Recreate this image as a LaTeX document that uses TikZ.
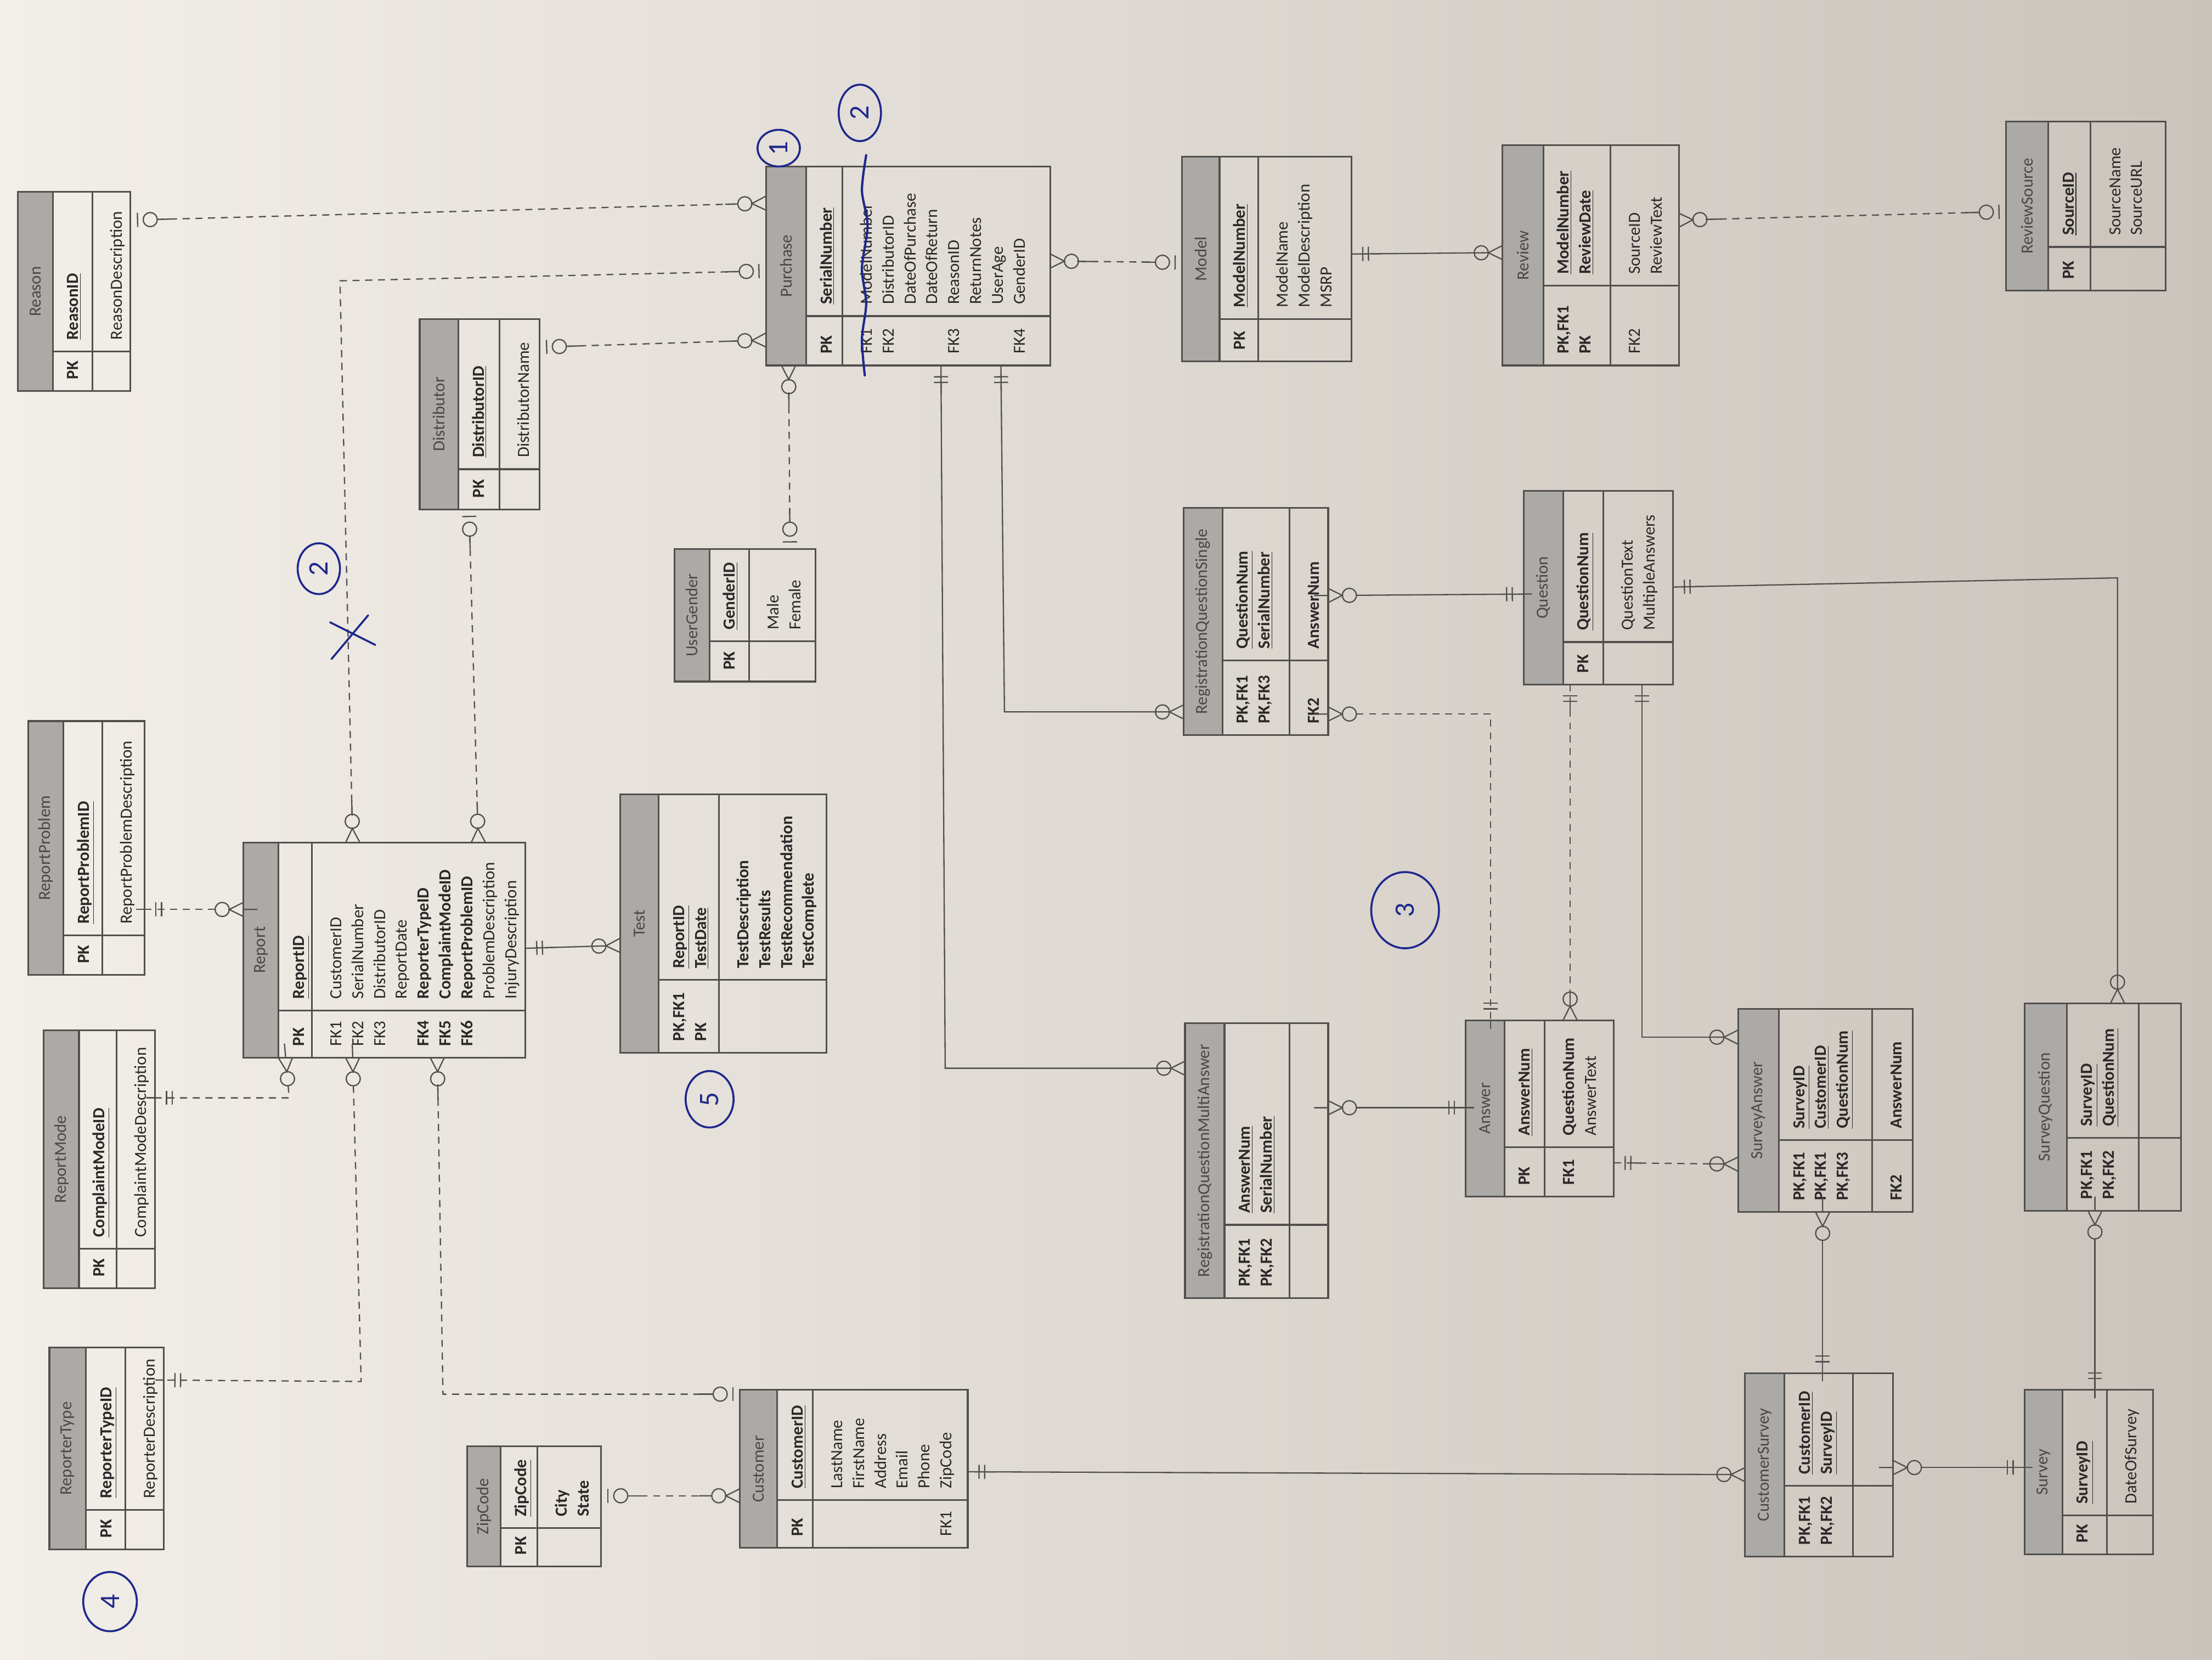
\documentclass[tikz,border=0pt]{standalone}
\usepackage{fontspec}
\setmainfont{Carlito}
\usepackage{tikz}
\usetikzlibrary{fit,decorations.markings}

\definecolor{paperL}{RGB}{242,238,232}
\definecolor{paperR}{RGB}{203,196,189}
\definecolor{headgray}{RGB}{172,170,166}
\definecolor{framegray}{RGB}{82,80,78}
\definecolor{txtgray}{RGB}{42,40,40}
\definecolor{pen}{RGB}{30,40,140}

\newcommand{\erfont}{\fontsize{12}{15.5}\selectfont}
\newcommand{\pk}[1]{\textbf{\underline{#1}}}

% crow's foot ends, drawn with the table edge at the origin
\newcommand{\crowmany}{\draw[mk] (-15,0) circle[radius=5]; \draw[mk] (0,5) -- (-10,0) -- (0,-5) (-10,0) -- (0,0);}
\newcommand{\zeroone}{\draw[mk] (-14,0) circle[radius=5]; \draw[mk] (-5,5) -- (-5,-5) (-9,0) -- (0,0);}
\newcommand{\onlyone}{\draw[mk] (-8,5) -- (-8,-5) (-12,5) -- (-12,-5) (-14,0) -- (0,0);}

\tikzset{
	tabframe/.style={
		% The shape:
		rectangle,inner sep=0pt,outer sep=0pt,
		% The border:
		draw=framegray,line width=1.2pt,
	}}
\tikzset{
	headfill/.style={fill=headgray},
	tabline/.style={draw=framegray,line width=1.2pt},
	ttl/.style={rotate=90,font=\erfont,text=txtgray!85,inner sep=0pt},
	fld/.style={rotate=90,anchor=north west,align=left,font=\erfont,text=txtgray,inner sep=0pt},
	mk/.style={solid,draw=framegray,line width=0.9pt},
	rel/.style={draw=framegray,line width=0.9pt},
	dashrel/.style={rel,dash pattern=on 5pt off 4pt},
	tipB/.style={postaction={decorate,decoration={markings,mark=at position 1 with {#1}}}},
	tipA/.style={postaction={decorate,decoration={markings,mark=at position 0 with {\begin{scope}[xscale=-1]#1\end{scope}}}}},
	manyA/.style={tipA=\crowmany,shorten <=20pt},manyB/.style={tipB=\crowmany,shorten >=20pt},
	optA/.style={tipA=\zeroone,shorten <=19pt},optB/.style={tipB=\zeroone,shorten >=19pt},
	oneA/.style={tipA=\onlyone},oneB/.style={tipB=\onlyone},
	ink/.style={draw=pen,line width=1.4pt,line cap=round},
	inknum/.style={rotate=90,text=pen,font=\fontsize{20}{20}\selectfont,inner sep=0pt},
}

% #1 name, #2 title, #3-#6 x of left / header / key column / right, #7-#9 y of top / divider / bottom
\newcommand{\ertable}[9]{%
	\fill[headfill] (#3,#7) rectangle (#4,#9);
	\node[tabframe,fit={(#3,#7) (#6,#9)}] (#1) {};
	\draw[tabline] (#4,#7) -- (#4,#9) (#5,#7) -- (#5,#9) (#4,#8) -- (#6,#8);
	\node[ttl] (#1-title) at ({(#3+#4)/2},{(#7+#9)/2}) {#2};
	\coordinate (#1-k) at (#4,#8);
	\coordinate (#1-a) at (#5,#8);
	\coordinate (#1-kb) at (#4,#9);
	\coordinate (#1-ab) at (#5,#9);
}
% #1 table, #2 key labels, #3 key names, #4 fk labels, #5 attributes
\newcommand{\erfields}[5]{%
	\node[fld,font=\erfont\bfseries] (#1-pk) at ([shift={(7,-8)}]#1-kb) {\strut#2};
	\node[fld] (#1-keys) at ([shift={(7,-8)}]#1-k) {\strut#3};
	\node[fld] (#1-fk) at ([shift={(10,-8)}]#1-ab) {\strut#4};
	\node[fld] (#1-attr) at ([shift={(10,-8)}]#1-a) {\strut#5};
}

\begin{document}
\begin{tikzpicture}[x=1pt,y=-1pt]
\useasboundingbox (0,0) rectangle (1568,1176);
\shade[left color=paperL,right color=paperR] (0,0) rectangle (1568,1176);

% tables
\ertable{reason}{Reason}{12.5}{37.5}{65.5}{92.5}{136}{249}{277}
\erfields{reason}{PK}{\pk{ReasonID}}{}{ReasonDescription}
\ertable{reportproblem}{ReportProblem}{20}{45}{72.5}{102.5}{511}{663}{691}
\erfields{reportproblem}{PK}{\pk{ReportProblemID}}{}{ReportProblemDescription}
\ertable{reportmode}{ReportMode}{31}{56}{82.5}{110}{730}{885}{913}
\erfields{reportmode}{PK}{\pk{ComplaintModeID}}{}{ComplaintModeDescription}
\ertable{reportertype}{ReporterType}{35}{61}{89}{116}{955}{1070}{1098}
\erfields{reportertype}{PK}{\pk{ReporterTypeID}}{}{ReporterDescription}
\ertable{zipcode}{ZipCode}{331}{355}{381}{426}{1025}{1083}{1110}
\erfields{zipcode}{PK}{\pk{ZipCode}}{}{\textbf{City}\\\textbf{State}}
\ertable{report}{Report}{172.5}{197.5}{221}{372.5}{597}{716}{749.5}
\erfields{report}{PK}{\pk{ReportID}}{FK1\\FK2\\FK3\\\strut\\\textbf{FK4}\\\textbf{FK5}\\\textbf{FK6}}{CustomerID\\SerialNumber\\DistributorID\\ReportDate\\\textbf{ReporterTypeID}\\\textbf{ComplaintModeID}\\\textbf{ReportProblemID}\\ProblemDescription\\InjuryDescription}
\ertable{distributor}{Distributor}{297.5}{325}{354}{382.5}{226}{332.5}{361}
\erfields{distributor}{PK}{\pk{DistributorID}}{}{DistributorName}
\ertable{test}{Test}{439.5}{467}{509.5}{586}{563}{694.5}{746}
\erfields{test}{PK,FK1\\PK}{\pk{ReportID}\\\pk{TestDate}}{}{\textbf{TestDescription}\\\textbf{TestResults}\\\textbf{TestRecommendation}\\\textbf{TestComplete}}
\ertable{usergender}{UserGender}{478}{503}{531}{578}{389}{454.5}{483}
\erfields{usergender}{PK}{\pk{GenderID}}{}{Male\\Female}
\ertable{customer}{Customer}{524.5}{551}{576}{686}{985}{1063}{1097}
\erfields{customer}{PK}{\pk{CustomerID}}{\strut\\\strut\\\strut\\\strut\\\strut\\FK1}{LastName\\FirstName\\Address\\Email\\Phone\\ZipCode}
\ertable{purchase}{Purchase}{543}{571.5}{597}{744.5}{118}{224}{259}
\erfields{purchase}{PK}{\pk{SerialNumber}}{FK1\\FK2\\\strut\\\strut\\FK3\\\strut\\\strut\\FK4}{ModelNumber\\DistributorID\\DateOfPurchase\\DateOfReturn\\ReasonID\\ReturnNotes\\UserAge\\GenderID}
\ertable{model}{Model}{838}{864.5}{892}{958}{111}{226}{256}
\erfields{model}{PK}{\pk{ModelNumber}}{}{ModelName\\ModelDescription\\MSRP}
\ertable{review}{Review}{1065}{1094}{1141.5}{1190}{103}{202.5}{259}
\erfields{review}{PK,FK1\\PK}{\pk{ModelNumber}\\\pk{ReviewDate}}{FK2}{SourceID\\ReviewText}
\ertable{reviewsource}{ReviewSource}{1422}{1452}{1482}{1535}{86}{175}{206}
\erfields{reviewsource}{PK}{\pk{SourceID}}{}{SourceName\\SourceURL}
\ertable{rqsingle}{RegistrationQuestionSingle}{839}{866.5}{914}{941.5}{360}{468}{521}
\erfields{rqsingle}{PK,FK1\\PK,FK3}{\pk{QuestionNum}\\\pk{SerialNumber}}{\textbf{FK2}}{\textbf{AnswerNum}}
\ertable{question}{Question}{1080}{1108}{1136.5}{1186}{348}{455}{485}
\erfields{question}{PK}{\pk{QuestionNum}}{}{QuestionText\\MultipleAnswers}
\ertable{rqmulti}{RegistrationQuestionMultiAnswer}{840}{868}{914}{941.5}{725}{868}{920}
\erfields{rqmulti}{PK,FK1\\PK,FK2}{\pk{AnswerNum}\\\pk{SerialNumber}}{}{}
\ertable{answer}{Answer}{1039}{1066.5}{1095}{1144}{723}{813}{848}
\erfields{answer}{PK}{\pk{AnswerNum}}{\textbf{FK1}}{\textbf{QuestionNum}\\AnswerText}
\ertable{surveyanswer}{SurveyAnswer}{1232}{1261}{1327}{1356}{715}{808}{859}
\erfields{surveyanswer}{PK,FK1\\PK,FK1\\PK,FK3}{\pk{SurveyID}\\\pk{CustomerID}\\\pk{QuestionNum}}{\textbf{FK2}}{\textbf{AnswerNum}}
\ertable{surveyquestion}{SurveyQuestion}{1435}{1465}{1516}{1546}{711}{806.5}{858}
\erfields{surveyquestion}{PK,FK1\\PK,FK2}{\pk{SurveyID}\\\pk{QuestionNum}}{}{}
\ertable{customersurvey}{CustomerSurvey}{1237}{1265}{1313.5}{1342}{973}{1053}{1103}
\erfields{customersurvey}{PK,FK1\\PK,FK2}{\pk{CustomerID}\\\pk{SurveyID}}{}{}
\ertable{survey}{Survey}{1435}{1462}{1493.5}{1526}{985}{1074}{1101.5}
\erfields{survey}{PK}{\pk{SurveyID}}{}{DateOfSurvey}

% relationships
\coordinate (xbend) at (241,199);
\coordinate (modebend) at (205,778);
\coordinate (typebend) at (256,979);
\coordinate (custbend) at (314,988);
\coordinate (multibend) at (670,757);
\coordinate (singlebend) at (712,504.5);
\coordinate (ansbend) at (1056.5,506);
\coordinate (sabend) at (1164,735);
\coordinate (sqbend) at (1501,409.5);

\draw[dashrel,optA,manyB] (reason.east |- 0,156) -- (purchase.west |- 0,144);
\draw[dashrel,manyA,optB] (report.north -| 250,0) -- (xbend) -- (purchase.west |- 0,192);
\draw[dashrel,optA,manyB] (distributor.east |- 0,246) -- (purchase.west |- 0,241);
\draw[dashrel,optA,manyB] (distributor.south -| 332.5,0) -- (report.north -| 339,0);
\draw[dashrel,manyA,optB] (purchase.south -| 559,0) -- (usergender.north -| 560,0);
\draw[dashrel,manyA,optB] (purchase.east |- 0,185) -- (model.west |- 0,186);
\draw[rel,oneA,manyB] (model.east |- 0,180) -- (review.west |- 0,179);
\draw[dashrel,manyA,optB] (review.east |- 0,156) -- (reviewsource.west |- 0,150);
\draw[rel,oneA,manyB] (purchase.south -| 667,0) -- (multibend) -- (rqmulti.west |- 0,757);
\draw[rel,oneA,manyB] (purchase.south -| 709.5,0) -- (singlebend) -- (rqsingle.west |- 0,504.5);
\draw[rel,manyA,oneB] (rqsingle.east |- 0,422) -- (question.west |- 0,421);
\draw[dashrel,manyA,oneB] (rqsingle.east |- 0,506) -- (ansbend) -- (answer.north -| 1056.5,0);
\draw[dashrel,oneA,manyB] (question.south -| 1113,0) -- (answer.north -| 1113,0);
\draw[rel,oneA,manyB] (question.south -| 1164,0) -- (sabend) -- (surveyanswer.west |- 0,735);
\draw[rel,oneA,manyB] (question.east |- 0,416) -- (sqbend) -- (surveyquestion.north -| 1501,0);
\draw[rel,manyA,oneB] (rqmulti.east |- 0,785) -- (answer.west |- 0,785);
\draw[dashrel,oneA,manyB] (answer.east |- 0,824) -- (surveyanswer.west |- 0,825);
\draw[rel,manyA,oneB] (surveyanswer.south -| 1292,0) -- (customersurvey.north -| 1292,0);
\draw[rel,manyA,oneB] (surveyquestion.south -| 1485,0) -- (survey.north -| 1485,0);
\draw[rel,oneA,manyB] (customer.east |- 0,1043) -- (customersurvey.west |- 0,1045);
\draw[rel,manyA,oneB] (customersurvey.east |- 0,1040) -- (survey.west |- 0,1040);
\draw[dashrel,optA,manyB] (zipcode.east |- 0,1060) -- (customer.west |- 0,1060);
\draw[dashrel,manyA,optB] (report.south -| 310,0) -- (custbend) -- (customer.west |- 0,988);
\draw[dashrel,manyA,oneB] (report.south -| 250,0) -- (typebend) -- (reportertype.east |- 0,978);
\draw[dashrel,manyA,oneB] (report.south -| 202.5,0) -- (modebend) -- (reportmode.east |- 0,778);
\draw[dashrel,manyA,oneB] (report.west |- 0,644.5) -- (reportproblem.east |- 0,644.5);
\draw[rel,oneA,manyB] (report.east |- 0,672) -- (test.west |- 0,670);

% pen marks
\draw[ink] (552,105) ellipse [x radius=15, y radius=13];
\node[inknum] (pen1) at (552,105) {1};
\draw[ink] (609.5,80) ellipse [x radius=15, y radius=20];
\node[inknum] (pen2a) at (609.5,80) {2};
\draw[ink,line width=1.6pt] plot[smooth] coordinates {(614,110) (611,135) (615,160) (611,190) (614,215) (611,240) (613,266)};
\draw[ink] (226,403) ellipse [x radius=15, y radius=18];
\node[inknum] (pen2b) at (226,403) {2};
\draw[ink] (235,467) -- (261,436) (234,441) -- (266,457);
\draw[ink] (996,645) ellipse [x radius=24, y radius=27];
\node[inknum] (pen3) at (996,645) {3};
\draw[ink] (78,1135) ellipse [x radius=19, y radius=21];
\node[inknum] (pen4) at (78,1135) {4};
\draw[ink] (503,779) ellipse [x radius=17, y radius=20];
\node[inknum] (pen5) at (503,779) {5};
\end{tikzpicture}
\end{document}
